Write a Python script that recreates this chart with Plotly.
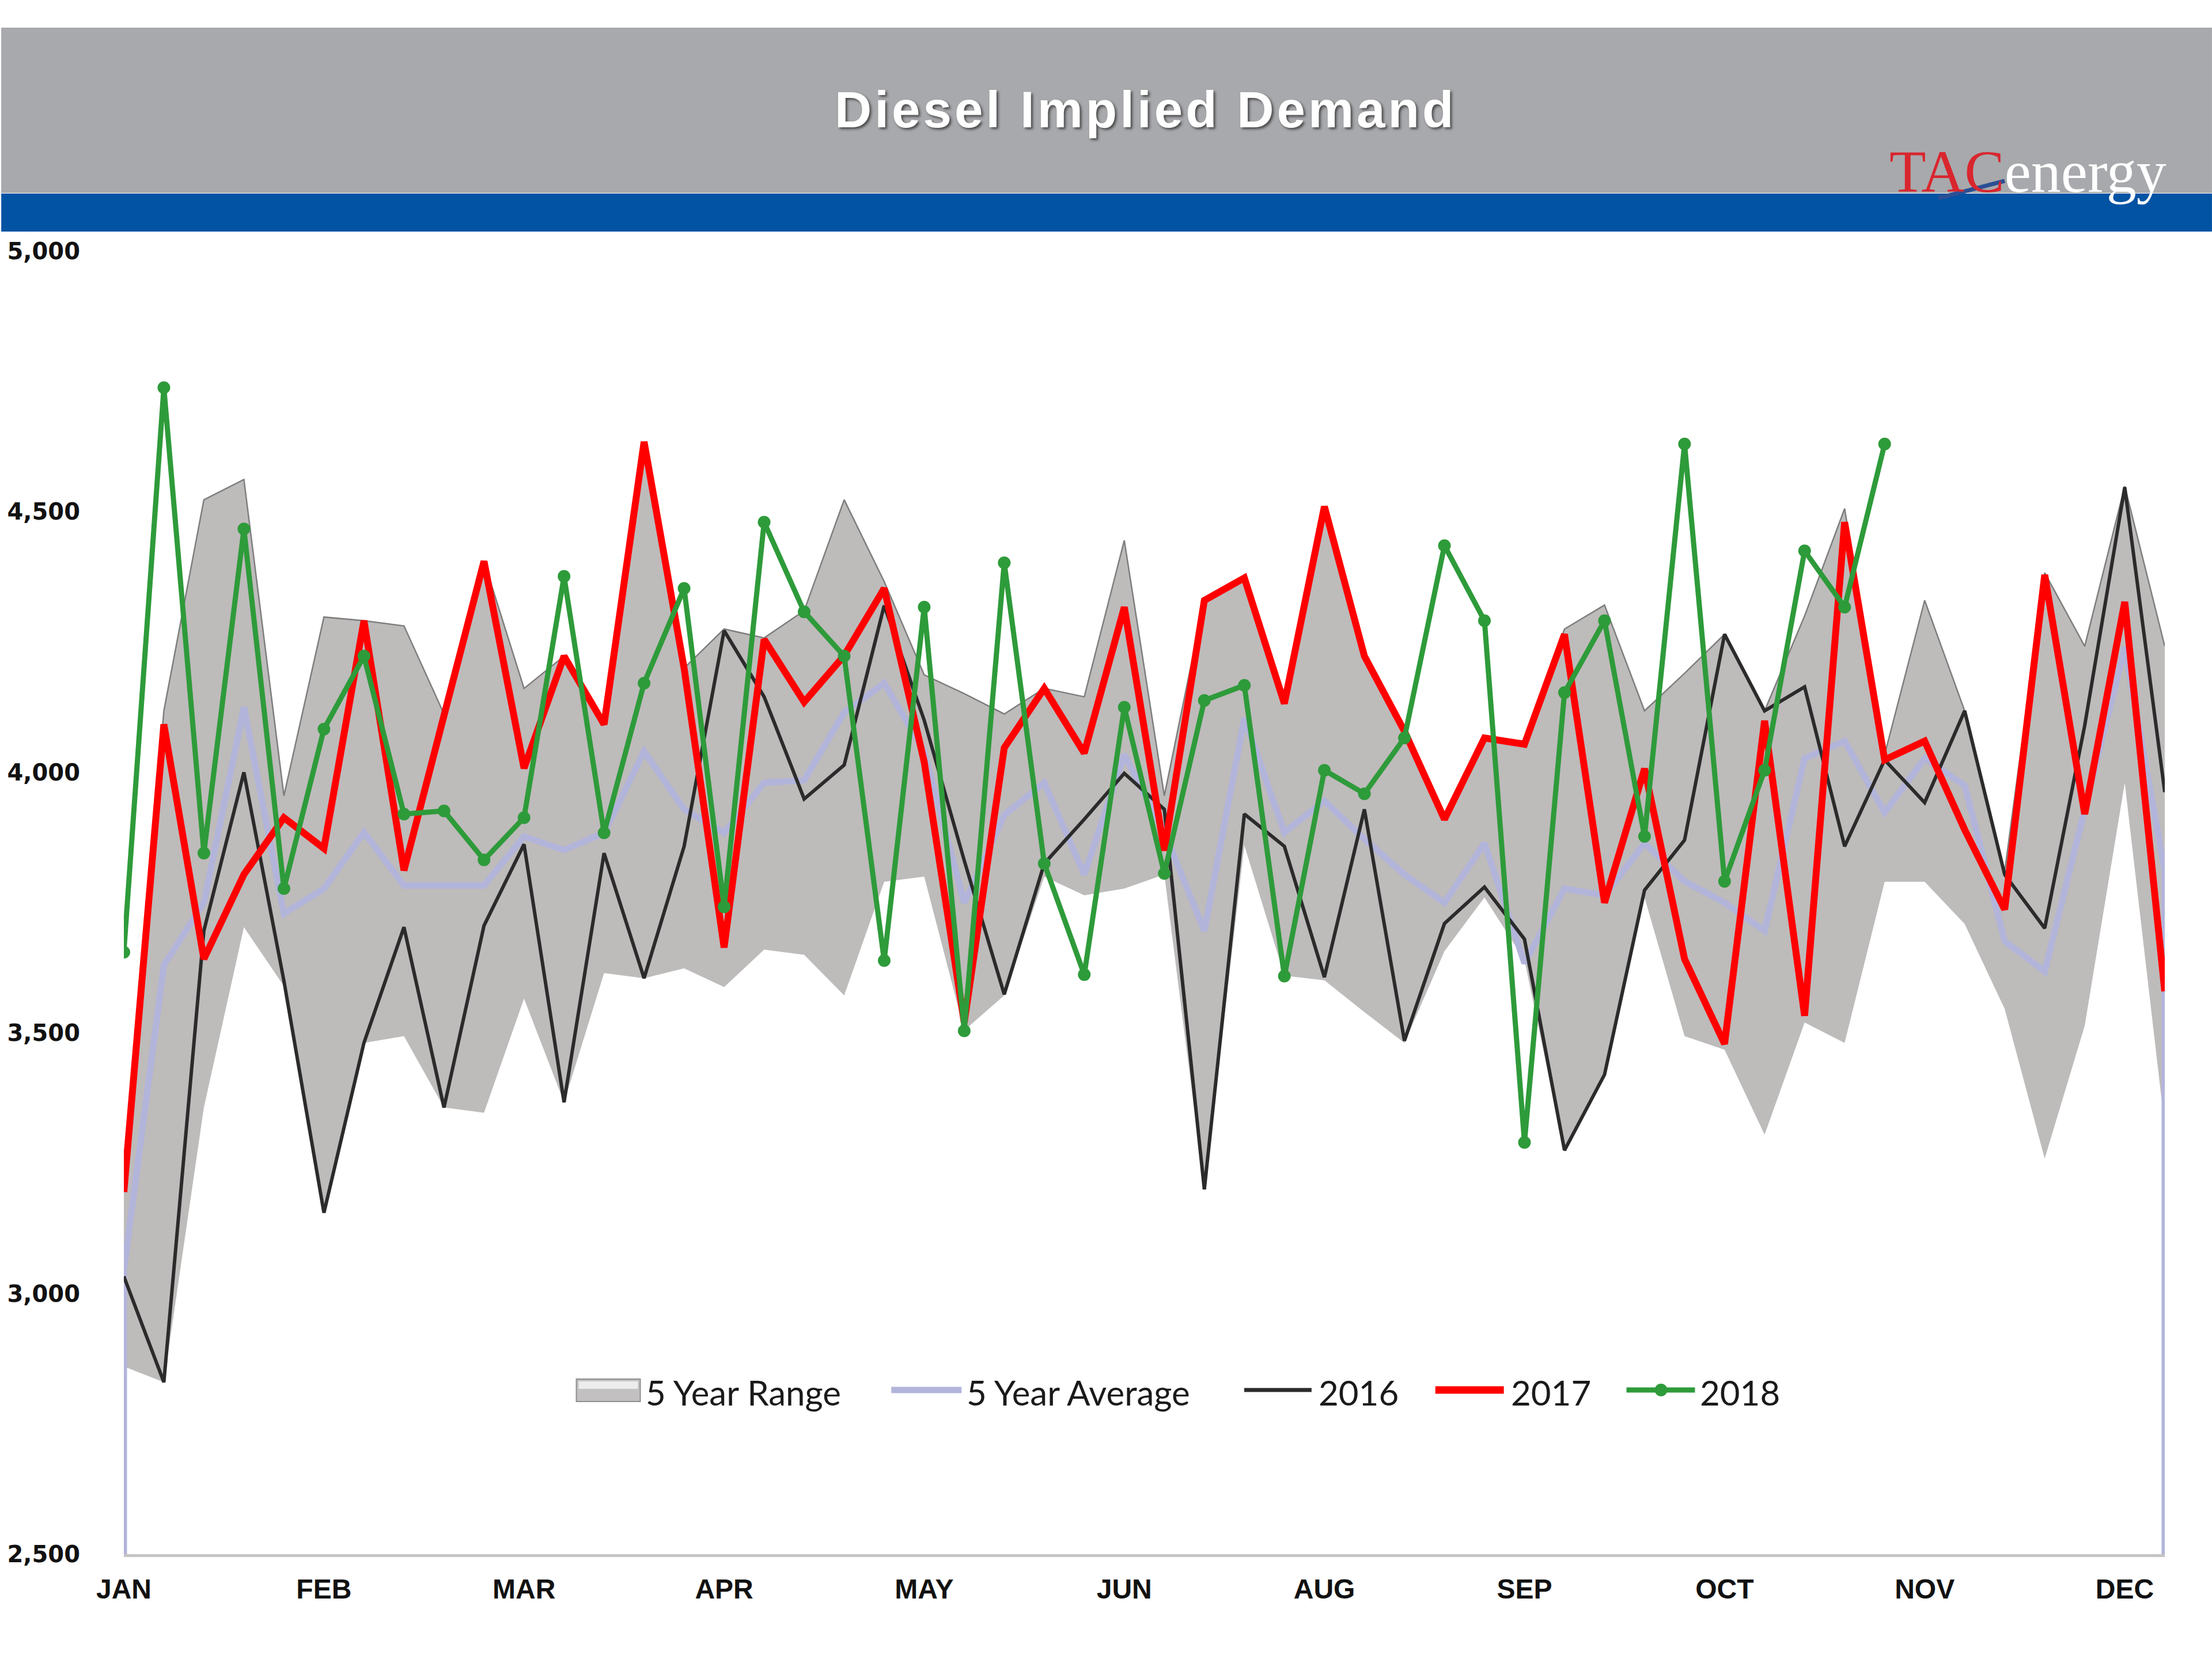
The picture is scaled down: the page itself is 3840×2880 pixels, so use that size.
import plotly.graph_objects as go

# ---------------- data ----------------
WEEKS = list(range(1, 53))
TICK_WEEKS = [1, 6, 11, 16, 21, 26, 31, 36, 41, 46, 51]
TICK_LABELS = ["JAN", "FEB", "MAR", "APR", "MAY", "JUN", "AUG", "SEP", "OCT", "NOV", "DEC"]
Y_TICKS = [2500, 3000, 3500, 4000, 4500, 5000]

RANGE_LOW = [2860, 2830, 3357, 3703, 3590, 3155, 3481, 3494, 3357, 3347,
             3566, 3367, 3615, 3605, 3624, 3588, 3660, 3650, 3572, 3790,
             3800, 3505, 3572, 3800, 3764, 3777, 3804, 3200, 3860, 3610,
             3601, 3540, 3481, 3657, 3760, 3640, 3272, 3420, 3760, 3494,
             3468, 3305, 3520, 3481, 3790, 3790, 3709, 3546, 3259, 3514,
             3980, 3320]
RANGE_HIGH = [3195, 4118, 4523, 4562, 3955, 4298, 4291, 4281, 4112, 4405,
              4161, 4223, 4095, 4634, 4200, 4275, 4258, 4310, 4523, 4366,
              4187, 4151, 4112, 4161, 4145, 4445, 3955, 4330, 4373, 4132,
              4510, 4223, 4086, 3915, 4066, 4060, 4275, 4321, 4118, 4190,
              4265, 4118, 4300, 4506, 4034, 4330, 4118, 3810, 4383, 4242,
              4549, 4242]
AVG_5Y = [3046, 3630, 3750, 4125, 3729, 3777, 3885, 3783, 3783, 3783,
          3877, 3851, 3884, 4040, 3929, 3884, 3980, 3985, 4115, 4171,
          4040, 3750, 3918, 3980, 3804, 4034, 3885, 3696, 4104, 3885,
          3945, 3872, 3804, 3750, 3864, 3634, 3777, 3764, 3864, 3791,
          3750, 3696, 4027, 4060, 3923, 4027, 3975, 3676, 3618, 3926,
          4240, 3810]
Y2016 = [3033, 2830, 3696, 4000, 3600, 3155, 3481, 3703, 3357, 3706,
         3862, 3367, 3845, 3605, 3858, 4272, 4145, 3949, 4014, 4320,
         4100, 3831, 3574, 3825, 3910, 3998, 3929, 3200, 3920, 3858,
         3607, 3929, 3485, 3710, 3780, 3680, 3275, 3420, 3774, 3870,
         4265, 4118, 4164, 3858, 4024, 3942, 4118, 3804, 3701, 4090,
         4547, 3962]
Y2017 = [3195, 4092, 3642, 3804, 3913, 3854, 4291, 3812, 4109, 4405,
         4008, 4223, 4092, 4634, 4200, 3664, 4255, 4135, 4224, 4353,
         4020, 3520, 4047, 4161, 4037, 4317, 3850, 4330, 4373, 4132,
         4510, 4223, 4079, 3910, 4066, 4054, 4265, 3750, 4007, 3642,
         3479, 4099, 3533, 4480, 4024, 4060, 3890, 3737, 4379, 3920,
         4327, 3580]
Y2018 = [3655, 4738, 3845, 4467, 3777, 4083, 4223, 3920, 3926, 3832,
         3913, 4376, 3884, 4171, 4353, 3742, 4480, 4308, 4223, 3639,
         4317, 3504, 4402, 3825, 3612, 4125, 3806, 4138, 4167, 3609,
         4004, 3959, 4066, 4435, 4291, 3290, 4153, 4291, 3877, 4630,
         3791, 4004, 4425, 4317, 4630]

TITLE = "Diesel Implied Demand"
LEGEND_NAMES = ["5 Year Range", "5 Year Average", "2016", "2017", "2018"]

# ---------------- styles ----------------
C_RANGE = "#BEBBBB"
C_AVG = "#B2B4DA"
C_2016 = "#2B2B2B"
C_2017 = "#FF0000"
C_2018 = "#2E9B3A"

W, H = 3840, 2880
L, R, T, B = 213, 3758, 436, 2698   # plot area in page pixels
Y_MIN, Y_MAX = Y_TICKS[0], Y_TICKS[-1]


def px(x):
    return (x - L) / (R - L)


def py(y):
    return (B - y) / (B - T)


fig = go.Figure()

# 5 year range band
fig.add_trace(go.Scatter(x=WEEKS, y=RANGE_LOW, mode="lines",
                         line=dict(width=0, color=C_RANGE),
                         hoverinfo="skip", showlegend=False))
fig.add_trace(go.Scatter(x=WEEKS, y=RANGE_HIGH, mode="lines", fill="tonexty",
                         fillcolor=C_RANGE, line=dict(width=2.5, color="#7E7E7E"),
                         name=LEGEND_NAMES[0], showlegend=False))

# 5 year average (drops to the axis floor at both ends, as in the source)
avg_x = [WEEKS[0]] + WEEKS + [WEEKS[-1]]
avg_y = [Y_MIN] + AVG_5Y + [Y_MIN]
fig.add_trace(go.Scatter(x=avg_x, y=avg_y, mode="lines",
                         line=dict(width=11, color=C_AVG),
                         name=LEGEND_NAMES[1], showlegend=False))

fig.add_trace(go.Scatter(x=WEEKS, y=Y2016, mode="lines",
                         line=dict(width=6, color=C_2016),
                         name=LEGEND_NAMES[2], showlegend=False))
fig.add_trace(go.Scatter(x=WEEKS, y=Y2017, mode="lines",
                         line=dict(width=12, color=C_2017),
                         name=LEGEND_NAMES[3], showlegend=False))
fig.add_trace(go.Scatter(x=WEEKS[:len(Y2018)], y=Y2018, mode="lines+markers",
                         line=dict(width=9, color=C_2018),
                         marker=dict(size=22, color=C_2018),
                         name=LEGEND_NAMES[4], showlegend=False))

shapes = []
# header bands
shapes.append(dict(type="rect", xref="paper", yref="paper",
                   x0=px(0), x1=px(W), y0=py(335), y1=py(48),
                   fillcolor="#A8A9AC", line=dict(width=0), layer="below"))
shapes.append(dict(type="rect", xref="paper", yref="paper",
                   x0=px(0), x1=px(W), y0=py(402), y1=py(336),
                   fillcolor="#0353A4", line=dict(width=0), layer="below"))
# logo slash
shapes.append(dict(type="line", xref="paper", yref="paper",
                   x0=px(3365), y0=py(344), x1=px(3480), y1=py(314),
                   line=dict(color="#2C4F94", width=7)))

# custom legend
ly = 2413
shapes.append(dict(type="rect", xref="paper", yref="paper",
                   x0=px(999), x1=px(1110), y0=py(ly + 20), y1=py(ly - 19),
                   fillcolor="#C2C0C0", line=dict(color="#8E8E8E", width=2)))
shapes.append(dict(type="rect", xref="paper", yref="paper",
                   x0=px(1003), x1=px(1106), y0=py(ly - 2), y1=py(ly - 15),
                   fillcolor="#ECECEC", line=dict(width=0)))
for (x0, x1, col, wid) in [(1546, 1668, C_AVG, 11), (2159, 2276, C_2016, 7),
                           (2491, 2610, C_2017, 13), (2823, 2942, C_2018, 9)]:
    shapes.append(dict(type="line", xref="paper", yref="paper",
                       x0=px(x0), x1=px(x1), y0=py(ly), y1=py(ly),
                       line=dict(color=col, width=wid)))
shapes.append(dict(type="circle", xref="paper", yref="paper",
                   x0=px(2872), x1=px(2894), y0=py(ly + 11), y1=py(ly - 11),
                   fillcolor=C_2018, line=dict(width=0)))

annotations = []
annotations.append(dict(
    xref="paper", yref="paper", x=px(1988), y=py(190),
    text=f'<span style="letter-spacing:5px">{TITLE}</span>',
    showarrow=False, xanchor="center", yanchor="middle",
    font=dict(family="Liberation Sans, Arial", size=89, color="white",
              weight="bold", shadow="3px 3px 4px rgba(40,40,40,0.75)")))
annotations.append(dict(
    xref="paper", yref="paper", x=px(3520), y=py(298),
    text='<span style="color:#D9262E">TAC</span>energy',
    showarrow=False, xanchor="center", yanchor="middle",
    font=dict(family="Liberation Serif, Times New Roman", size=104, color="white")))

for name, x0 in zip(LEGEND_NAMES, [1118, 1675, 2286, 2620, 2949]):
    annotations.append(dict(
        xref="paper", yref="paper", x=px(x0), y=py(ly + 4), text=name,
        showarrow=False, xanchor="left", yanchor="middle",
        font=dict(family="Lato, Calibri, sans-serif", size=60, color="#1A1A1A")))

fig.update_layout(
    width=W, height=H,
    margin=dict(l=L, r=W - R, t=T, b=H - B),
    paper_bgcolor="white", plot_bgcolor="white",
    shapes=shapes, annotations=annotations,
    showlegend=False,
    xaxis=dict(range=[WEEKS[0], WEEKS[-1]], tickvals=TICK_WEEKS, ticktext=TICK_LABELS,
               showgrid=False, zeroline=False, showline=True,
               linecolor="#C4C4C4", linewidth=5, ticks="",
               ticklabelstandoff=14,
               tickfont=dict(family="Liberation Sans, Arial", size=48,
                             color="#111111", weight="bold")),
    yaxis=dict(range=[Y_MIN, Y_MAX], tickvals=Y_TICKS, tickformat=",",
               showgrid=False, zeroline=False, showline=False, ticks="",
               ticklabelstandoff=75,
               tickfont=dict(family="DejaVu Sans", size=40,
                             color="#111111", weight="bold")),
)

fig.write_html("out.html",
               config={"displayModeBar": False},
               post_script="document.body.style.margin='0';document.body.style.padding='0';")
